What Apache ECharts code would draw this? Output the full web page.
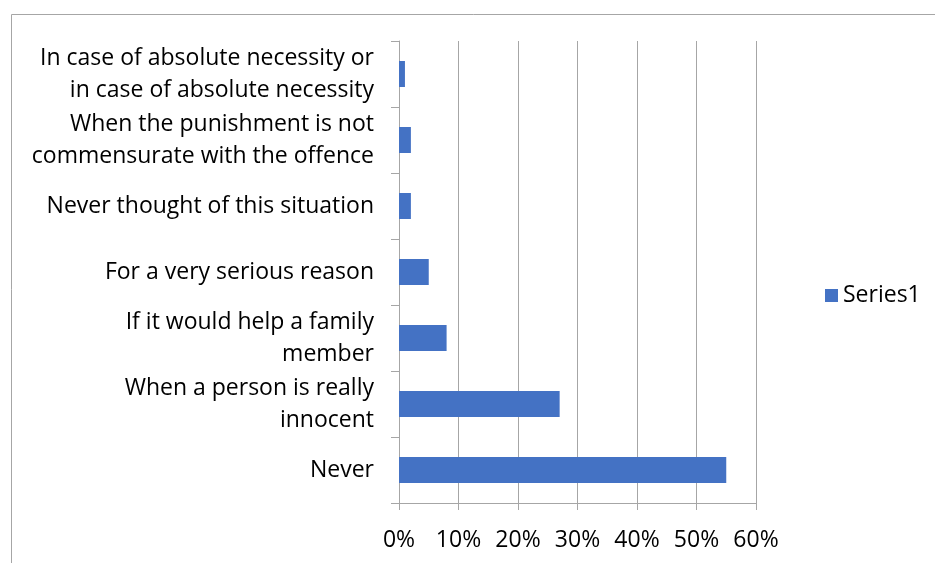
<!DOCTYPE html>
<html>
<head>
<meta charset="utf-8">
<script src="https://cdn.jsdelivr.net/npm/echarts@6/dist/echarts.min.js"></script>
<style>
  html, body { margin: 0; padding: 0; background: #fff; }
  #chart { width: 935px; height: 563px; }
</style>
</head>
<body>
<div id="chart"></div>
<script>
// categories listed bottom to top, as the category axis draws them
var categories = [
    'Never',
    'When a person is really\ninnocent',
    'If it would help a family\nmember',
    'For a very serious reason',
    'Never thought of this situation',
    'When the punishment is not\ncommensurate with the offence',
    'In case of absolute necessity or\nin case of absolute necessity'
];
var series1 = [55, 27, 8, 5, 2, 2, 1];
var xTicks = [0, 10, 20, 30, 40, 50, 60];

var chart = echarts.init(document.getElementById('chart'));

var gray = '#a6a6a6';
var font = '"Open Sans", sans-serif';

option = {
    animation: false,
    textStyle: { fontFamily: font },
    graphic: [{
        type: 'rect',
        left: 9,
        top: 12,
        shape: { width: 1000, height: 600 },
        style: { fill: 'none', stroke: gray, lineWidth: 1 }
    }],
    grid: {
        left: 399,
        right: 179,
        top: 41,
        bottom: 60
    },
    legend: {
        orient: 'vertical',
        left: 820,
        top: 279,
        icon: 'rect',
        itemWidth: 13,
        itemHeight: 13,
        itemGap: 6,
        textStyle: { fontSize: 23, color: '#000', fontFamily: font },
        data: ['Series1']
    },
    xAxis: {
        type: 'value',
        min: xTicks[0],
        max: xTicks[xTicks.length - 1],
        interval: 10,
        axisLine: { show: true, lineStyle: { color: gray } },
        axisTick: { show: true, length: 7, lineStyle: { color: gray } },
        splitLine: { show: true, lineStyle: { color: gray } },
        axisLabel: {
            formatter: '{value}%',
            color: '#000',
            fontSize: 23,
            margin: 26
        }
    },
    yAxis: {
        type: 'category',
        data: categories,
        axisLine: { show: true, lineStyle: { color: gray } },
        axisTick: { show: true, length: 8, lineStyle: { color: gray } },
        splitLine: { show: false },
        axisLabel: {
            color: '#000',
            fontSize: 23,
            lineHeight: 32,
            margin: 25,
            align: 'right'
        }
    },
    series: [{
        name: 'Series1',
        type: 'bar',
        barWidth: 26,
        itemStyle: { color: '#4472c4' },
        data: series1
    }]
};

chart.setOption(option);
</script>
</body>
</html>
